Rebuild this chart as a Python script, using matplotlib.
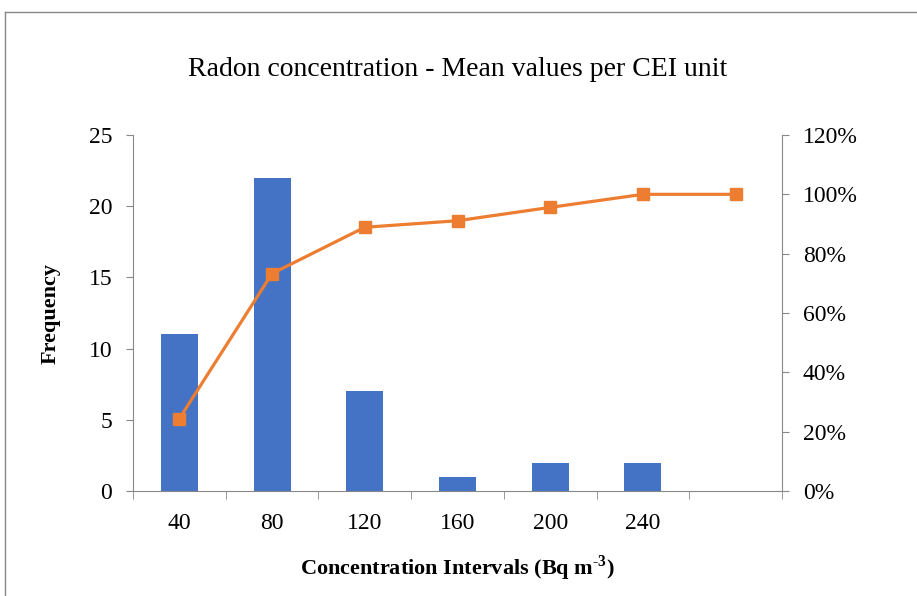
import numpy as np
import matplotlib.pyplot as plt
from matplotlib.ticker import FuncFormatter
from matplotlib.lines import Line2D

labels = ['40', '80', '120', '160', '200', '240', '']
frequency = [11, 22, 7, 1, 2, 2, 0]
cumulative = [0.244, 0.733, 0.889, 0.911, 0.956, 1.0, 1.0]

plt.rcParams['font.family'] = ['Liberation Serif', 'DejaVu Serif']
plt.rcParams['mathtext.fontset'] = 'custom'
plt.rcParams['mathtext.rm'] = 'Liberation Serif'
plt.rcParams['mathtext.bf'] = 'Liberation Serif:bold'

fig = plt.figure(figsize=(9.17, 5.96), dpi=100)
W, H = 917, 596
ax = fig.add_axes([133 / W, 1 - 491 / H, 649 / W, 356 / H])
ax2 = ax.twinx()

x = np.arange(len(labels))
ax.bar(x, frequency, width=0.4, color='#4472C4', zorder=2)
ax2.plot(x, cumulative, color='#ED7D31', lw=2.3, marker='s', ms=8.5, zorder=3)

ax.set_xlim(-0.5, len(labels) - 0.5)
ax.set_ylim(0, 25)
ax.set_yticks(range(0, 26, 5))
ax2.set_ylim(0, 1.2)
ax2.set_yticks(np.arange(0, 1.21, 0.2))
ax2.yaxis.set_major_formatter(FuncFormatter(lambda v, p: f'{v * 100:.0f}%'))

ax.set_xticks(x)
ax.set_xticklabels(labels)
ax.set_xticks(np.arange(-0.5, len(labels), 1), minor=True)
ax.tick_params(axis='x', which='major', length=0, labelsize=17, pad=16)
ax.tick_params(axis='x', which='minor', length=6, color='#888888')
ax.tick_params(axis='y', labelsize=17, length=5, color='#888888', pad=10)
ax2.tick_params(axis='y', labelsize=17, length=5, color='#888888', pad=10)

for a in (ax, ax2):
    for s in a.spines.values():
        s.set_visible(False)
ax.spines['left'].set_visible(True)
ax.spines['bottom'].set_visible(True)
ax2.spines['right'].set_visible(True)
for s in (ax.spines['left'], ax.spines['bottom'], ax2.spines['right']):
    s.set_color('#888888')

ax.set_ylabel('Frequency', fontsize=16, fontweight='bold', labelpad=20)
ax.set_xlabel(r'Concentration Intervals (Bq m$^{\mathbf{\text{-}3}}$)', fontsize=16,
              fontweight='bold', labelpad=14)
fig.text(458 / W, 1 - 70 / H, 'Radon concentration - Mean values per CEI unit',
         ha='center', va='center', fontsize=20)

fig.add_artist(Line2D([5 / W, 1], [1 - 12 / H, 1 - 12 / H], color='#888888', lw=1))
fig.add_artist(Line2D([5 / W, 5 / W], [0, 1 - 12 / H], color='#888888', lw=1))

fig.savefig('out.png', dpi=100)
